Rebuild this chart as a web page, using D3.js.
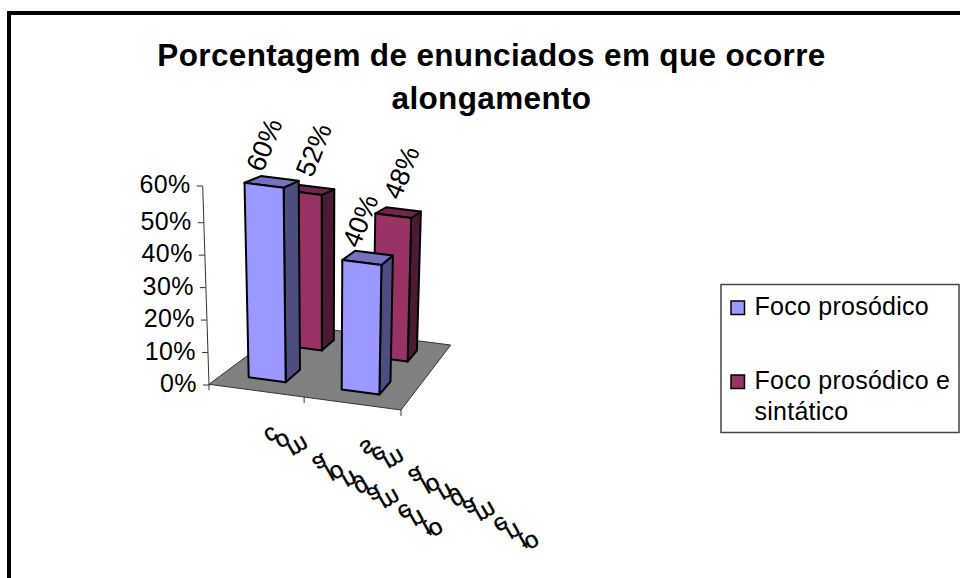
<!DOCTYPE html>
<html><head><meta charset="utf-8">
<style>
html,body{margin:0;padding:0;background:#fff}
svg{display:block}
text{font-family:"Liberation Sans",Arial,sans-serif;fill:#000}
</style></head><body>
<svg id="c" width="960" height="578"></svg>
<script src="https://cdn.jsdelivr.net/npm/d3@7/dist/d3.min.js"></script>
<script>
const titleLines = ["Porcentagem de enunciados em que ocorre", "alongamento"];
const categories = ["com alongamento", "sem alongamento"];
const seriesNames = ["Foco prosódico", "Foco prosódico e sintático"];
const prosodic = [60, 40];
const prosodicSyntactic = [52, 48];
const axisTicks = [0, 10, 20, 30, 40, 50, 60];

const svg = d3.select("#c");
const W = 960, H = 578;

// Outer chart frame
svg.append("path").attr("d", `M9,${H + 5}V13H${W + 5}`).attr("fill", "none")
  .attr("stroke", "#000").attr("stroke-width", 4);

// Title
svg.append("g").selectAll("text").data(titleLines).join("text")
  .attr("x", 491.5).attr("y", (d, i) => 66 + i * 43)
  .attr("text-anchor", "middle").attr("font-weight", "bold")
  .attr("font-size", 31.5).attr("letter-spacing", 0.35).text(d => d);

// Perspective map of the unit floor square onto the screen
const g = -0.0182, h = 0.196;
function floorPt(u, v) {
  const w = g * u + h * v + 1;
  return [(184.7 * u + 137.1 * v + 209) / w, (18.24 * u + 3.8 * v + 384.3) / w];
}
const heightFrac = d3.scaleLinear().domain([0, 60]).range([0, 1]);
function project(u, v, val) {
  const [x, y] = floorPt(u, v);
  const t = heightFrac(val);
  return [x + (x - 325) * 0.055 * t, y - (199 - 30 * v) * t];
}

const uBand = d3.scaleBand().domain(categories).range([0, 1]);
const vBand = d3.scaleBand().domain(seriesNames).range([0, 1]);
const barU = 0.2, barV = 0.187;
const uStart = c => uBand(c) + 0.14;
const vStart = s => vBand(s) + 0.15;

// Floor
const poly = pts => "M" + pts.map(p => p.map(n => n.toFixed(1)).join(",")).join("L") + "Z";
svg.append("path")
  .attr("d", poly([floorPt(0, 0), floorPt(1, 0), floorPt(1, 1), floorPt(0, 1)]))
  .attr("fill", "#808080").attr("stroke", "#333").attr("stroke-width", 1);

// Category ticks along the front floor edge
svg.append("g").selectAll("line").data([0, 0.5, 1]).join("line")
  .attr("x1", d => floorPt(d, 0)[0]).attr("y1", d => floorPt(d, 0)[1])
  .attr("x2", d => floorPt(d, 0)[0]).attr("y2", d => floorPt(d, 0)[1] + 6)
  .attr("stroke", "#333").attr("stroke-width", 1);

// Value axis: the printed ticks sit a little unevenly towards the top
const yAxis = d3.scaleLinear().domain([0, 50, 60]).range([385, 222.7, 186]);
const slantX = d => 209 - 6.3 * d / 60;
const ax = svg.append("g").call(d3.axisLeft(yAxis).tickValues(axisTicks)
  .tickFormat(d => d + "%").tickSize(6).tickPadding(6));
ax.select(".domain").remove();
ax.selectAll(".tick").attr("transform", d => `translate(${slantX(d)},${yAxis(d)})`);
ax.selectAll(".tick line").attr("stroke", "#333");
ax.selectAll(".tick text").attr("font-size", 25).attr("font-family", null).attr("fill", "#000")
  .attr("letter-spacing", 0.4).attr("y", -1.5).attr("dy", "0.34em");
svg.append("line").attr("x1", slantX(0)).attr("y1", yAxis(0))
  .attr("x2", slantX(60)).attr("y2", yAxis(60)).attr("stroke", "#333");

// Bars, back row first so the front row overlaps it
const palette = [
  {front: "#9999FF", side: "#4D4D80", top: "#7373BF"},
  {front: "#993366", side: "#4D1A33", top: "#73264D"}
];
[1, 0].forEach(si => {
  const vals = si === 0 ? prosodic : prosodicSyntactic;
  const name = seriesNames[si], col = palette[si];
  categories.forEach((c, ci) => {
    const u0 = uStart(c), u1 = u0 + barU, v0 = vStart(name), v1 = v0 + barV, val = vals[ci];
    const bar = svg.append("g").attr("stroke", "#000").attr("stroke-width", 2).attr("stroke-linejoin", "round");
    bar.append("path").attr("fill", col.side)
      .attr("d", poly([project(u1, v0, 0), project(u1, v1, 0), project(u1, v1, val), project(u1, v0, val)]));
    bar.append("path").attr("fill", col.top)
      .attr("d", poly([project(u0, v0, val), project(u1, v0, val), project(u1, v1, val), project(u0, v1, val)]));
    bar.append("path").attr("fill", col.front)
      .attr("d", poly([project(u0, v0, 0), project(u1, v0, 0), project(u1, v0, val), project(u0, v0, val)]));
  });
});

// Value labels above the bars, drawn last so they stay on top
[0, 1].forEach(si => {
  const vals = si === 0 ? prosodic : prosodicSyntactic;
  const name = seriesNames[si];
  const off = si === 0 ? [-8, -37] : [3, -40];
  categories.forEach((c, ci) => {
    const p = project(uStart(c) + barU / 2, vStart(name) + barV / 2, vals[ci]);
    svg.append("text")
      .attr("transform", `translate(${p[0] + off[0]},${p[1] + off[1]}) rotate(-68)`)
      .attr("text-anchor", "middle").attr("dy", "0.35em").attr("font-size", 27)
      .text(vals[ci] + "%");
  });
});

// Category labels: each glyph is mirrored and tilted, and the run steps down a diagonal
const m = {a: 0.866, b: -0.5, c: -0.5, d: -0.866};
const stepDir = [0.866, 0.5], stretch = 1.07;
categories.forEach(c => {
  const base = floorPt(uBand(c) + uBand.bandwidth() / 2, 0);
  const ox = base[0] + 6, oy = base[1] + 41;
  const t = svg.append("text").attr("font-size", 24).attr("xml:space", "preserve")
    .attr("stroke", "#000").attr("stroke-width", 0.35)
    .attr("transform", `matrix(${m.a},${m.b},${m.c},${m.d},${ox},${oy})`).text(c);
  const node = t.node();
  const adv = d3.range(c.length).map(i => i === 0 ? 0 : node.getSubStringLength(0, i) * stretch);
  // The matrix is its own inverse, so it also turns the screen step into text-space coordinates
  const lx = m.a * stepDir[0] + m.c * stepDir[1], ly = m.b * stepDir[0] + m.d * stepDir[1];
  t.attr("x", adv.map(s => (s * lx).toFixed(2)).join(" "))
   .attr("y", adv.map(s => (s * ly).toFixed(2)).join(" "));
});

// Legend
svg.append("rect").attr("x", 721).attr("y", 284.5).attr("width", 238).attr("height", 148)
  .attr("fill", "#fff").attr("stroke", "#444").attr("stroke-width", 1.5);
const legendRows = [
  {swatch: 301, lines: [seriesNames[0]], base: [315], col: palette[0].front},
  {swatch: 375, lines: ["Foco prosódico e", "sintático"], base: [388.5, 419.5], col: palette[1].front}
];
legendRows.forEach(r => {
  svg.append("rect").attr("x", 731).attr("y", r.swatch).attr("width", 13.5).attr("height", 13.5)
    .attr("fill", r.col).attr("stroke", "#000").attr("stroke-width", 1.5);
  r.lines.forEach((l, i) => svg.append("text").attr("x", 754.5).attr("y", r.base[i]).attr("font-size", 25)
    .attr("letter-spacing", 0.25).text(l));
});
</script>
</body></html>
